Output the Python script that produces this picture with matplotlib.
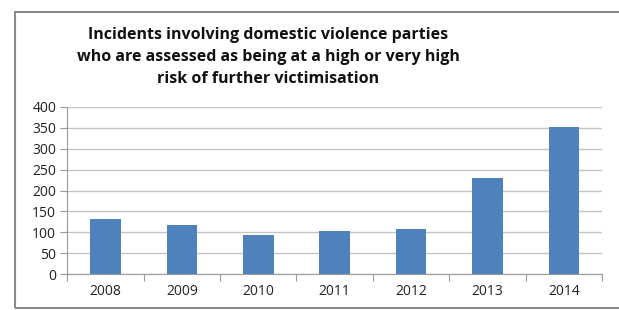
import matplotlib
matplotlib.use("Agg")
import matplotlib.pyplot as plt
from matplotlib.patches import Rectangle
import numpy as np

years = ["2008", "2009", "2010", "2011", "2012", "2013", "2014"]
incidents = [131, 118, 93, 103, 109, 230, 352]
y_ticks = [0, 50, 100, 150, 200, 250, 300, 350, 400]
title = ("Incidents involving domestic violence parties\n"
         "who are assessed as being at a high or very high\n"
         "risk of further victimisation")

W, H = 619, 310
fig = plt.figure(figsize=(W / 100, H / 100), dpi=100)
fig.patch.set_facecolor("white")

# outer chart frame
fig.patches.append(Rectangle((15 / W, 1 - 308 / H), (640 - 15) / W, (308 - 12) / H,
                             transform=fig.transFigure, fill=False,
                             edgecolor="#8a8a8a", linewidth=1.5))

ax = fig.add_axes([67.3 / W, 1 - 274.3 / H, (602 - 67.3) / W, (274.3 - 106.7) / H])
x = np.arange(len(years))
ax.bar(x, incidents, width=0.40, color="#4F81BD", zorder=3)

ax.set_xlim(-0.5, len(years) - 0.5)
ax.set_ylim(0, 400)
ax.set_yticks(y_ticks)
ax.set_xticks(x)
ax.set_xticklabels(years)
ax.set_xticks(np.arange(-0.5, len(years)), minor=True)
ax.tick_params(axis="x", which="major", length=0, pad=7, labelsize=10, labelcolor="#222222")
ax.tick_params(axis="x", which="minor", length=5, color="#9a9a9a", width=0.8)
ax.tick_params(axis="y", length=5, color="#9a9a9a", width=0.8, pad=3, labelsize=10,
               labelcolor="#222222")
for lab in ax.get_xticklabels() + ax.get_yticklabels():
    lab.set_family("Open Sans")

ax.grid(axis="y", color="#c4c4c4", linewidth=1.0, zorder=0)
for s in ["top", "right"]:
    ax.spines[s].set_visible(False)
ax.spines["left"].set_color("#9a9a9a")
ax.spines["bottom"].set_color("#9a9a9a")
ax.spines["left"].set_linewidth(0.8)
ax.spines["bottom"].set_linewidth(0.8)

fig.text(268 / W, 1 - 57 / H, title, ha="center", va="center", fontsize=11.5,
         fontweight="bold", family="Open Sans", linespacing=1.5, color="#111111")

fig.savefig("out.png", dpi=100, facecolor="white")
